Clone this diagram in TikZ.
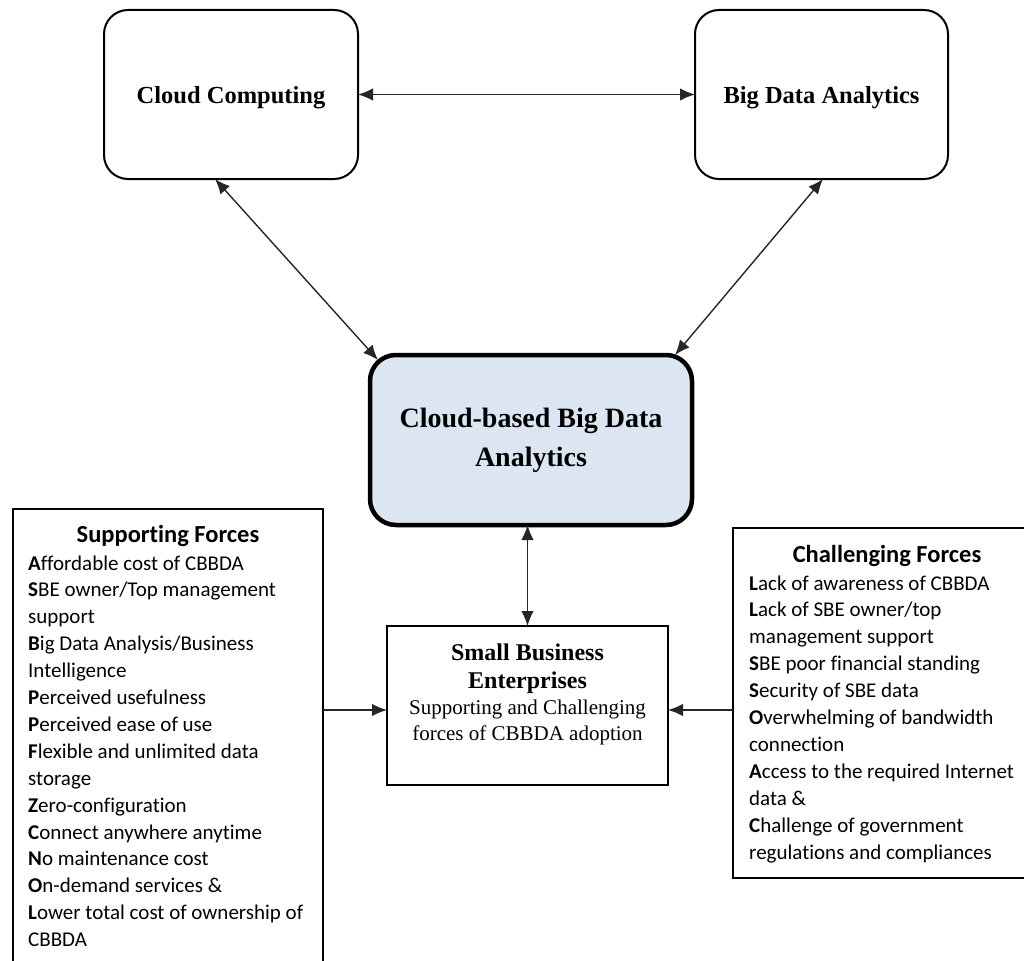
\documentclass[tikz,border=0pt]{standalone}
\usepackage{fontspec}
\setmainfont{Liberation Serif}
\newfontfamily\calfont[Ligatures=NoCommon]{Carlito}
\usetikzlibrary{arrows.meta}
\definecolor{cenblue}{RGB}{220,230,242}
\tikzset{
  topbox/.style={draw, line width=2pt, rounded corners=24pt, inner sep=0pt, outer sep=0pt,
    text height=24pt, text depth=5pt, font=\fontsize{24.5}{29}\selectfont\bfseries},
  cenbox/.style={draw, line width=4.5pt, rounded corners=26pt, fill=cenblue, inner sep=0pt, outer sep=0pt,
    align=center, font=\fontsize{28}{39}\selectfont\bfseries},
  plainbox/.style={draw, line width=2pt, inner sep=0pt, outer sep=0pt},
  arr/.style={line width=1.4pt, draw=black!85, {Latex[length=15pt,width=12.5pt]}-{Latex[length=15pt,width=12.5pt]}},
  arrone/.style={line width=1.4pt, draw=black!85, -{Latex[length=15pt,width=12.5pt]}},
  listtext/.style={inner sep=0pt, anchor=base west, font=\calfont\fontsize{21}{26.9}\selectfont},
  titletext/.style={inner sep=0pt, anchor=base, font=\calfont\fontsize{24.5}{28}\selectfont\bfseries},
}
\begin{document}
\begin{tikzpicture}[x=1pt,y=-1pt]
\useasboundingbox (0,0) rectangle (1024,960);
% boxes
\node[topbox, minimum width=254pt, minimum height=169pt] (cc) at (231,94.5) {Cloud Computing};
\node[topbox, minimum width=253pt, minimum height=169pt] (bda) at (821.5,94.5) {Big Data Analytics};
\node[cenbox, minimum width=322pt, minimum height=170pt] (cen) at (531,440) {Cloud-based Big Data\\Analytics};
\node[plainbox, minimum width=281pt, minimum height=159pt] (sbe) at (527.5,705.5) {};
\node[plainbox, minimum width=310pt, minimum height=470pt] (sup) at (168,744) {};
\node[plainbox, minimum width=308pt, minimum height=350pt] (cha) at (887,703) {};
% SBE text
\node[inner sep=0pt, anchor=base] (sbetext) at (527.5,660) {\begin{minipage}[t]{275pt}\centering
\fontsize{24}{28}\selectfont\bfseries Small Business\\Enterprises\par
\fontsize{21}{26}\selectfont\mdseries Supporting and Challenging\\forces of CBBDA adoption\end{minipage}};
% Supporting forces
\node[titletext] (suptitle) at (168,542) {Supporting Forces};
\node[listtext] (suplist) at (28,570) {\begin{minipage}[t]{300pt}\raggedright
\textbf{A}ffordable cost of CBBDA\\
\textbf{S}BE owner/Top management\\
support\\
\textbf{B}ig Data Analysis/Business\\
Intelligence\\
\textbf{P}erceived usefulness\\
\textbf{P}erceived ease of use\\
\textbf{F}lexible and unlimited data\\
storage\\
\textbf{Z}ero-configuration\\
\textbf{C}onnect anywhere anytime\\
\textbf{N}o maintenance cost\\
\textbf{O}n-demand services \&\\
\textbf{L}ower total cost of ownership of\\
CBBDA\end{minipage}};
% Challenging forces
\node[titletext] (chatitle) at (887,562) {Challenging Forces};
\node[listtext] (chalist) at (749,590) {\begin{minipage}[t]{280pt}\raggedright
\textbf{L}ack of awareness of CBBDA\\
\textbf{L}ack of SBE owner/top\\
management support\\
\textbf{S}BE poor financial standing\\
\textbf{S}ecurity of SBE data\\
\textbf{O}verwhelming of bandwidth\\
connection\\
\textbf{A}ccess to the required Internet\\
data \&\\
\textbf{C}hallenge of government\\
regulations and compliances\end{minipage}};
% connectors
\coordinate (ay) at (0,710);
\draw[arr] (cc.east) -- (bda.west);
\draw[arr] ([xshift=111pt]cc.south west) -- ([shift={(8,5)}]cen.north west);
\draw[arr] ([xshift=-125pt]bda.south east) -- ([shift={(-17,0)}]cen.north east);
\draw[arr] (sbe.north |- cen.south) -- (sbe.north);
\draw[arrone] (sup.east |- ay) -- (sbe.west |- ay);
\draw[arrone] (cha.west |- ay) -- (sbe.east |- ay);
\end{tikzpicture}
\end{document}
